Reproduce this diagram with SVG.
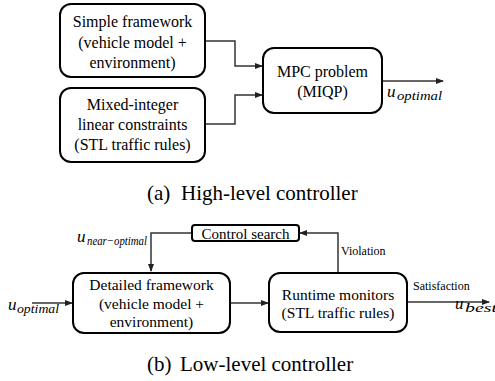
<svg xmlns="http://www.w3.org/2000/svg" width="495" height="381" viewBox="0 0 495 381">
<style>
.box{fill:#fff;stroke:#000;stroke-width:2}
.t{font-size:16px;fill:#000;text-anchor:middle}
.t2{font-size:15.5px;fill:#000;text-anchor:middle}
.sm{font-size:12px;fill:#000}
.cap{font-size:21px;fill:#000}
.u{font-style:italic;font-size:17px;fill:#000}
.s{font-style:italic;font-size:12.5px;fill:#000}
.c{fill:none;stroke:#333;stroke-width:1.5}
</style>
<defs>
<marker id="ah" markerWidth="8" markerHeight="6" refX="7" refY="3" orient="auto" markerUnits="userSpaceOnUse">
<path d="M0,0 L8,3 L0,6 z" fill="#222"/>
</marker>
</defs>
<g id="connectors">
<polyline class="c" points="205,41 235,41 235,66 262,66" marker-end="url(#ah)"/>
<polyline class="c" points="205,124 235,124 235,95 262,95" marker-end="url(#ah)"/>
<line class="c" x1="382" y1="81" x2="443" y2="81" marker-end="url(#ah)"/>
<line class="c" x1="32" y1="303" x2="72" y2="303" marker-end="url(#ah)"/>
<line class="c" x1="230" y1="303" x2="268" y2="303" marker-end="url(#ah)"/>
<line class="c" x1="407" y1="302" x2="489" y2="302" marker-end="url(#ah)"/>
<polyline class="c" points="338,273 338,233 300,233" marker-end="url(#ah)"/>
<polyline class="c" points="192,233 151,233 151,271" marker-end="url(#ah)"/>
</g>
<g id="simple-framework">
<rect class="box" x="60" y="4" width="145" height="73" rx="11"/>
<text class="t" font-family="Liberation Serif" x="132.5" y="27">Simple framework</text>
<text class="t" font-family="Liberation Serif" x="132.5" y="47.5">(vehicle model +</text>
<text class="t" font-family="Liberation Serif" x="132.5" y="68">environment)</text>
</g>
<g id="milp">
<rect class="box" x="60" y="88" width="145" height="74" rx="11"/>
<text class="t" font-family="Liberation Serif" x="132.5" y="110">Mixed-integer</text>
<text class="t" font-family="Liberation Serif" x="132.5" y="130">linear constraints</text>
<text class="t" font-family="Liberation Serif" x="132.5" y="150">(STL traffic rules)</text>
</g>
<g id="mpc">
<rect class="box" x="263" y="48" width="119" height="65" rx="11"/>
<text class="t" font-family="Liberation Serif" x="322.5" y="77">MPC problem</text>
<text class="t" font-family="Liberation Serif" x="322.5" y="97">(MIQP)</text>
</g>
<g id="label-uopt-top">
<text class="u" font-family="Liberation Serif" x="387" y="97">u</text>
<text class="s" font-family="Liberation Serif" x="397" y="100" textLength="45" lengthAdjust="spacingAndGlyphs">optimal</text>
</g>
<text class="cap" font-family="Liberation Serif" x="147" y="200">(a)</text>
<text class="cap" font-family="Liberation Serif" x="181" y="200">High-level controller</text>
<g id="control-search">
<rect class="box" x="192" y="225" width="107" height="16" rx="3"/>
<text class="t2" font-family="Liberation Serif" x="245.5" y="238.5" style="font-size:15px">Control search</text>
</g>
<g id="detailed-framework">
<rect class="box" x="73" y="273" width="157" height="60" rx="11"/>
<text class="t2" font-family="Liberation Serif" x="151.5" y="290">Detailed framework</text>
<text class="t2" font-family="Liberation Serif" x="151.5" y="308.5">(vehicle model +</text>
<text class="t2" font-family="Liberation Serif" x="151.5" y="327">environment)</text>
</g>
<g id="runtime-monitors">
<rect class="box" x="269" y="273" width="138" height="59" rx="11"/>
<text class="t2" font-family="Liberation Serif" x="338" y="300">Runtime monitors</text>
<text class="t2" font-family="Liberation Serif" x="338" y="318">(STL traffic rules)</text>
</g>
<text class="sm" font-family="Liberation Serif" x="341" y="255">Violation</text>
<text class="sm" font-family="Liberation Serif" x="413" y="290">Satisfaction</text>
<g id="label-unear">
<text class="u" font-family="Liberation Serif" x="77" y="242">u</text>
<text class="s" font-family="Liberation Serif" x="87" y="245" textLength="60" lengthAdjust="spacingAndGlyphs">near−optimal</text>
</g>
<g id="label-uopt-bottom">
<text class="u" font-family="Liberation Serif" x="8" y="310">u</text>
<text class="s" font-family="Liberation Serif" x="17" y="313" textLength="42" lengthAdjust="spacingAndGlyphs">optimal</text>
</g>
<g id="label-ubest">
<text class="u" font-family="Liberation Serif" x="455" y="309">u</text>
<text class="s" font-family="Liberation Serif" x="465" y="312" textLength="32" lengthAdjust="spacingAndGlyphs">best</text>
</g>
<text class="cap" font-family="Liberation Serif" x="147" y="371">(b)</text>
<text class="cap" font-family="Liberation Serif" x="180" y="371">Low-level controller</text>
</svg>
